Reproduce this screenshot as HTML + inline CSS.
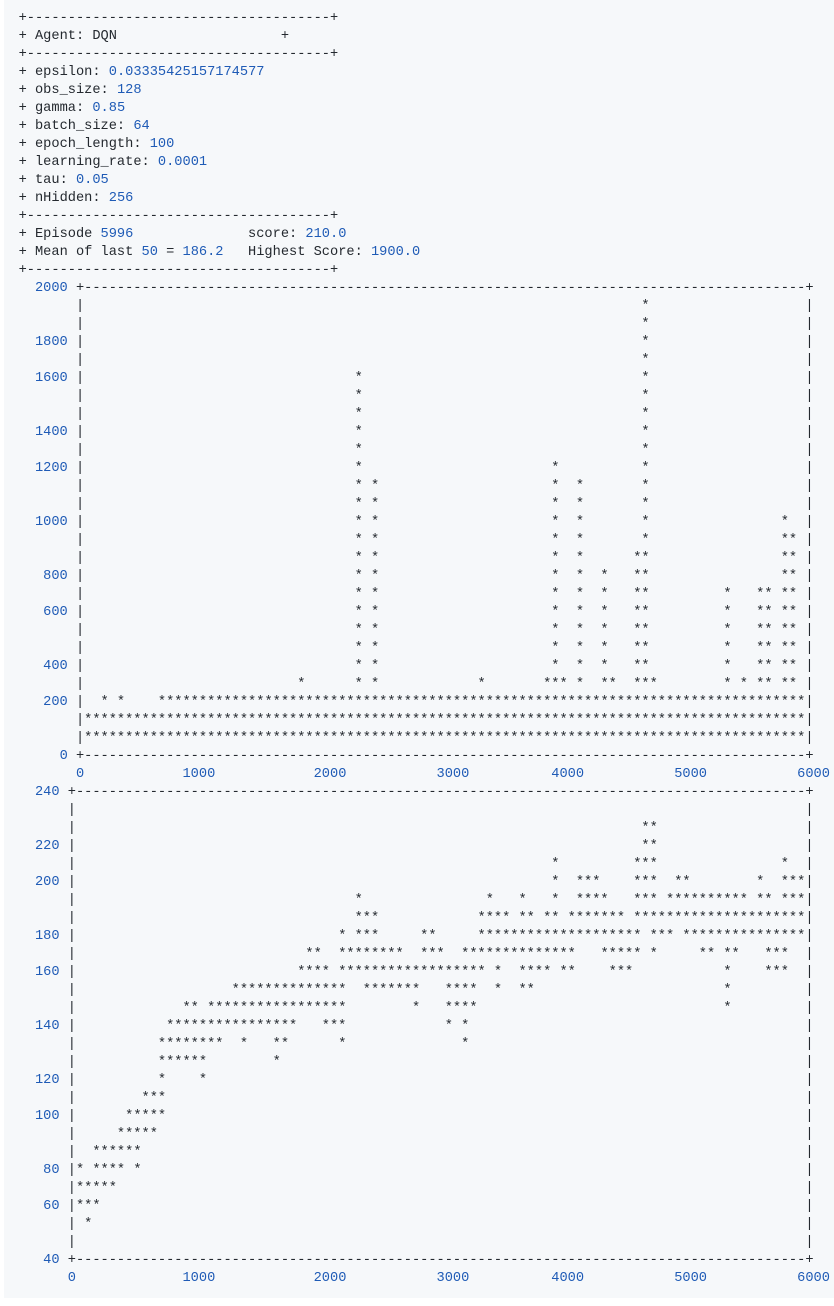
<!DOCTYPE html>
<html><head><meta charset="utf-8"><style>
html,body{margin:0;padding:0;background:#fff;width:834px;height:1306px;overflow:hidden}
#bg{position:absolute;left:4px;top:0;width:830px;height:1298px;background:#f6f8fa}
#t{position:absolute;left:18.6px;top:0;font-family:"Liberation Mono",monospace;font-size:13.67px;line-height:18px;color:#24292f}
.l{position:absolute;left:0;height:18px;width:110ch;white-space:pre}
.l i{position:absolute;top:0;font-style:normal;white-space:pre;overflow:hidden;height:18px}
.n{color:#1f5bb6}
</style></head><body><div id="bg"></div><div id="t">
<div class="l" style="top:10px">+-------------------------------------+</div>
<div class="l" style="top:28px">+ Agent: DQN<i style="left:32ch">+</i></div>
<div class="l" style="top:46px">+-------------------------------------+</div>
<div class="l" style="top:64px">+ epsilon: <span class="n">0.03335425157174577</span></div>
<div class="l" style="top:82px">+ obs_size: <span class="n">128</span></div>
<div class="l" style="top:100px">+ gamma: <span class="n">0.85</span></div>
<div class="l" style="top:118px">+ batch_size: <span class="n">64</span></div>
<div class="l" style="top:136px">+ epoch_length: <span class="n">100</span></div>
<div class="l" style="top:154px">+ learning_rate: <span class="n">0.0001</span></div>
<div class="l" style="top:172px">+ tau: <span class="n">0.05</span></div>
<div class="l" style="top:190px">+ nHidden: <span class="n">256</span></div>
<div class="l" style="top:208px">+-------------------------------------+</div>
<div class="l" style="top:226px">+ Episode <span class="n">5996</span><i style="left:28ch">score: <span class="n">210.0</span></i></div>
<div class="l" style="top:244px">+ Mean of last <span class="n">50</span> = <span class="n">186.2</span><i style="left:28ch">Highest Score: <span class="n">1900.0</span></i></div>
<div class="l" style="top:262px">+-------------------------------------+</div>

<!-- chart 1 -->
<div class="l" style="top:280px"><i class="n" style="left:2ch">2000</i><i style="left:7ch">+</i><i style="left:8ch;width:88ch">----------------------------------------------------------------------------------------------------</i><i style="left:96ch">+</i></div>
<div class="l" style="top:298px"><i style="left:7ch">|</i><i style="left:76ch">*</i><i style="left:96ch">|</i></div>
<div class="l" style="top:316px"><i style="left:7ch">|</i><i style="left:76ch">*</i><i style="left:96ch">|</i></div>
<div class="l" style="top:334px"><i class="n" style="left:2ch">1800</i><i style="left:7ch">|</i><i style="left:76ch">*</i><i style="left:96ch">|</i></div>
<div class="l" style="top:352px"><i style="left:7ch">|</i><i style="left:76ch">*</i><i style="left:96ch">|</i></div>
<div class="l" style="top:370px"><i class="n" style="left:2ch">1600</i><i style="left:7ch">|</i><i style="left:41ch">*</i><i style="left:76ch">*</i><i style="left:96ch">|</i></div>
<div class="l" style="top:388px"><i style="left:7ch">|</i><i style="left:41ch">*</i><i style="left:76ch">*</i><i style="left:96ch">|</i></div>
<div class="l" style="top:406px"><i style="left:7ch">|</i><i style="left:41ch">*</i><i style="left:76ch">*</i><i style="left:96ch">|</i></div>
<div class="l" style="top:424px"><i class="n" style="left:2ch">1400</i><i style="left:7ch">|</i><i style="left:41ch">*</i><i style="left:76ch">*</i><i style="left:96ch">|</i></div>
<div class="l" style="top:442px"><i style="left:7ch">|</i><i style="left:41ch">*</i><i style="left:76ch">*</i><i style="left:96ch">|</i></div>
<div class="l" style="top:460px"><i class="n" style="left:2ch">1200</i><i style="left:7ch">|</i><i style="left:41ch">*</i><i style="left:65ch">*</i><i style="left:76ch">*</i><i style="left:96ch">|</i></div>
<div class="l" style="top:478px"><i style="left:7ch">|</i><i style="left:41ch">* *</i><i style="left:65ch">*  *</i><i style="left:76ch">*</i><i style="left:96ch">|</i></div>
<div class="l" style="top:496px"><i style="left:7ch">|</i><i style="left:41ch">* *</i><i style="left:65ch">*  *</i><i style="left:76ch">*</i><i style="left:96ch">|</i></div>
<div class="l" style="top:514px"><i class="n" style="left:2ch">1000</i><i style="left:7ch">|</i><i style="left:41ch">* *</i><i style="left:65ch">*  *</i><i style="left:76ch">*</i><i style="left:93ch">*</i><i style="left:96ch">|</i></div>
<div class="l" style="top:532px"><i style="left:7ch">|</i><i style="left:41ch">* *</i><i style="left:65ch">*  *</i><i style="left:76ch">*</i><i style="left:93ch">**</i><i style="left:96ch">|</i></div>
<div class="l" style="top:550px"><i style="left:7ch">|</i><i style="left:41ch">* *</i><i style="left:65ch">*  *</i><i style="left:75ch">**</i><i style="left:93ch">**</i><i style="left:96ch">|</i></div>
<div class="l" style="top:568px"><i class="n" style="left:3ch">800</i><i style="left:7ch">|</i><i style="left:41ch">* *</i><i style="left:65ch">*  *  *   **</i><i style="left:93ch">**</i><i style="left:96ch">|</i></div>
<div class="l" style="top:586px"><i style="left:7ch">|</i><i style="left:41ch">* *</i><i style="left:65ch">*  *  *   **</i><i style="left:86ch">*   ** **</i><i style="left:96ch">|</i></div>
<div class="l" style="top:604px"><i class="n" style="left:3ch">600</i><i style="left:7ch">|</i><i style="left:41ch">* *</i><i style="left:65ch">*  *  *   **</i><i style="left:86ch">*   ** **</i><i style="left:96ch">|</i></div>
<div class="l" style="top:622px"><i style="left:7ch">|</i><i style="left:41ch">* *</i><i style="left:65ch">*  *  *   **</i><i style="left:86ch">*   ** **</i><i style="left:96ch">|</i></div>
<div class="l" style="top:640px"><i style="left:7ch">|</i><i style="left:41ch">* *</i><i style="left:65ch">*  *  *   **</i><i style="left:86ch">*   ** **</i><i style="left:96ch">|</i></div>
<div class="l" style="top:658px"><i class="n" style="left:3ch">400</i><i style="left:7ch">|</i><i style="left:41ch">* *</i><i style="left:65ch">*  *  *   **</i><i style="left:86ch">*   ** **</i><i style="left:96ch">|</i></div>
<div class="l" style="top:676px"><i style="left:7ch">|</i><i style="left:34ch">*</i><i style="left:41ch">* *</i><i style="left:56ch">*</i><i style="left:64ch">*** *  **  ***</i><i style="left:86ch">* * ** **</i><i style="left:96ch">|</i></div>
<div class="l" style="top:694px"><i class="n" style="left:3ch">200</i><i style="left:7ch">|</i><i style="left:10ch">* *</i><i style="left:17ch;width:79ch">****************************************************************************************************</i><i style="left:96ch">|</i></div>
<div class="l" style="top:712px"><i style="left:7ch">|</i><i style="left:8ch;width:88ch">****************************************************************************************************</i><i style="left:96ch">|</i></div>
<div class="l" style="top:730px"><i style="left:7ch">|</i><i style="left:8ch;width:88ch">****************************************************************************************************</i><i style="left:96ch">|</i></div>
<div class="l" style="top:748px"><i class="n" style="left:5ch">0</i><i style="left:7ch">+</i><i style="left:8ch;width:88ch">----------------------------------------------------------------------------------------------------</i><i style="left:96ch">+</i></div>
<div class="l n" style="top:766px"><i style="left:7ch">0</i><i style="left:20ch">1000</i><i style="left:36ch">2000</i><i style="left:51ch">3000</i><i style="left:65ch">4000</i><i style="left:80ch">5000</i><i style="left:95ch">6000</i></div>

<!-- chart 2 -->
<div class="l" style="top:784px"><i class="n" style="left:2ch">240</i><i style="left:6ch">+</i><i style="left:7ch;width:89ch">----------------------------------------------------------------------------------------------------</i><i style="left:96ch">+</i></div>
<div class="l" style="top:802px"><i style="left:6ch">|</i><i style="left:96ch">|</i></div>
<div class="l" style="top:820px"><i style="left:6ch">|</i><i style="left:76ch">**</i><i style="left:96ch">|</i></div>
<div class="l" style="top:838px"><i class="n" style="left:2ch">220</i><i style="left:6ch">|</i><i style="left:76ch">**</i><i style="left:96ch">|</i></div>
<div class="l" style="top:856px"><i style="left:6ch">|</i><i style="left:65ch">*</i><i style="left:75ch">***</i><i style="left:93ch">*</i><i style="left:96ch">|</i></div>
<div class="l" style="top:874px"><i class="n" style="left:2ch">200</i><i style="left:6ch">|</i><i style="left:65ch">*  ***    ***  **</i><i style="left:90ch">*  ***</i><i style="left:96ch">|</i></div>
<div class="l" style="top:892px"><i style="left:6ch">|</i><i style="left:41ch">*</i><i style="left:57ch">*   *   *  ****   *** ********** ** ***</i><i style="left:96ch">|</i></div>
<div class="l" style="top:910px"><i style="left:6ch">|</i><i style="left:41ch">***</i><i style="left:56ch">**** ** ** *******</i><i style="left:75ch;width:21ch">****************************************************************************************************</i><i style="left:96ch">|</i></div>
<div class="l" style="top:928px"><i class="n" style="left:2ch">180</i><i style="left:6ch">|</i><i style="left:39ch">* ***</i><i style="left:49ch">**</i><i style="left:56ch;width:20ch">****************************************************************************************************</i><i style="left:77ch">***</i><i style="left:81ch;width:15ch">****************************************************************************************************</i><i style="left:96ch">|</i></div>
<div class="l" style="top:946px"><i style="left:6ch">|</i><i style="left:35ch">**</i><i style="left:39ch;width:8ch">****************************************************************************************************</i><i style="left:49ch">***</i><i style="left:54ch;width:14ch">****************************************************************************************************</i><i style="left:71ch">***** *</i><i style="left:83ch">** **</i><i style="left:91ch">***</i><i style="left:96ch">|</i></div>
<div class="l" style="top:964px"><i class="n" style="left:2ch">160</i><i style="left:6ch">|</i><i style="left:34ch">****</i><i style="left:39ch;width:18ch">****************************************************************************************************</i><i style="left:58ch">*</i><i style="left:61ch">**** **</i><i style="left:72ch">***</i><i style="left:86ch">*</i><i style="left:91ch">***</i><i style="left:96ch">|</i></div>
<div class="l" style="top:982px"><i style="left:6ch">|</i><i style="left:26ch;width:14ch">****************************************************************************************************</i><i style="left:42ch">*******</i><i style="left:52ch">****</i><i style="left:58ch">*</i><i style="left:61ch">**</i><i style="left:86ch">*</i><i style="left:96ch">|</i></div>
<div class="l" style="top:1000px"><i style="left:6ch">|</i><i style="left:20ch">**</i><i style="left:23ch;width:17ch">****************************************************************************************************</i><i style="left:48ch">*</i><i style="left:52ch">****</i><i style="left:86ch">*</i><i style="left:96ch">|</i></div>
<div class="l" style="top:1018px"><i class="n" style="left:2ch">140</i><i style="left:6ch">|</i><i style="left:18ch;width:16ch">****************************************************************************************************</i><i style="left:37ch">***</i><i style="left:52ch">* *</i><i style="left:96ch">|</i></div>
<div class="l" style="top:1036px"><i style="left:6ch">|</i><i style="left:17ch">********</i><i style="left:27ch">*</i><i style="left:31ch">**</i><i style="left:39ch">*</i><i style="left:54ch">*</i><i style="left:96ch">|</i></div>
<div class="l" style="top:1054px"><i style="left:6ch">|</i><i style="left:17ch">******</i><i style="left:31ch">*</i><i style="left:96ch">|</i></div>
<div class="l" style="top:1072px"><i class="n" style="left:2ch">120</i><i style="left:6ch">|</i><i style="left:17ch">*</i><i style="left:22ch">*</i><i style="left:96ch">|</i></div>
<div class="l" style="top:1090px"><i style="left:6ch">|</i><i style="left:15ch">***</i><i style="left:96ch">|</i></div>
<div class="l" style="top:1108px"><i class="n" style="left:2ch">100</i><i style="left:6ch">|</i><i style="left:13ch">*****</i><i style="left:96ch">|</i></div>
<div class="l" style="top:1126px"><i style="left:6ch">|</i><i style="left:12ch">*****</i><i style="left:96ch">|</i></div>
<div class="l" style="top:1144px"><i style="left:6ch">|</i><i style="left:9ch">******</i><i style="left:96ch">|</i></div>
<div class="l" style="top:1162px"><i class="n" style="left:3ch">80</i><i style="left:6ch">|</i><i style="left:7ch">* **** *</i><i style="left:96ch">|</i></div>
<div class="l" style="top:1180px"><i style="left:6ch">|</i><i style="left:7ch">*****</i><i style="left:96ch">|</i></div>
<div class="l" style="top:1198px"><i class="n" style="left:3ch">60</i><i style="left:6ch">|</i><i style="left:7ch">***</i><i style="left:96ch">|</i></div>
<div class="l" style="top:1216px"><i style="left:6ch">|</i><i style="left:8ch">*</i><i style="left:96ch">|</i></div>
<div class="l" style="top:1234px"><i style="left:6ch">|</i><i style="left:96ch">|</i></div>
<div class="l" style="top:1252px"><i class="n" style="left:3ch">40</i><i style="left:6ch">+</i><i style="left:7ch;width:89ch">----------------------------------------------------------------------------------------------------</i><i style="left:96ch">+</i></div>
<div class="l n" style="top:1270px"><i style="left:6ch">0</i><i style="left:20ch">1000</i><i style="left:36ch">2000</i><i style="left:51ch">3000</i><i style="left:65ch">4000</i><i style="left:80ch">5000</i><i style="left:95ch">6000</i></div>
</div></body></html>
